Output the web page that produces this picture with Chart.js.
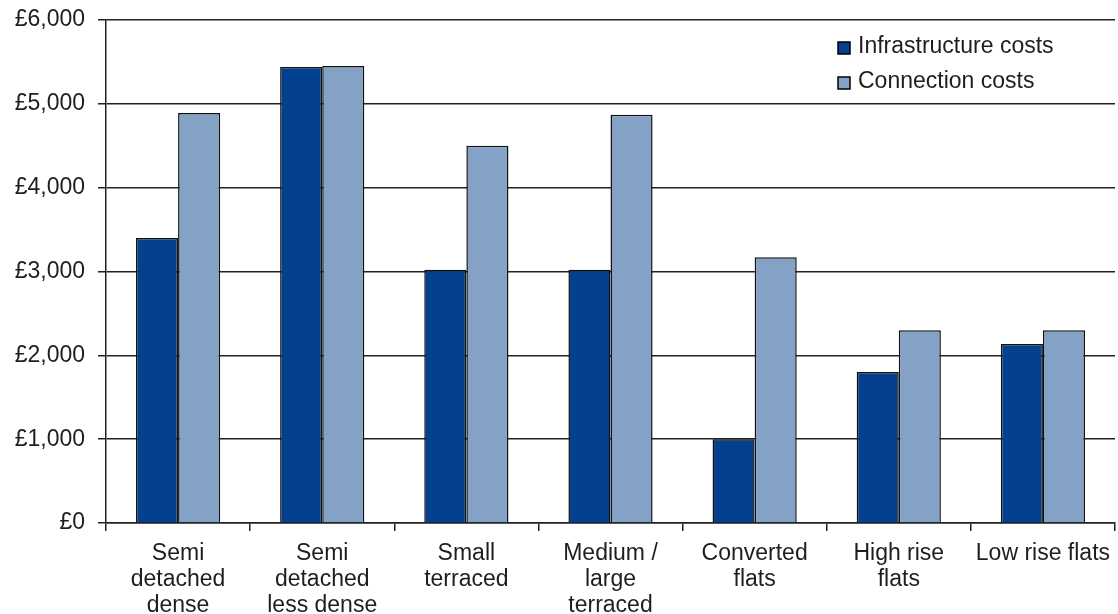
<!DOCTYPE html>
<html>
<head>
<meta charset="utf-8">
<script src="https://cdn.jsdelivr.net/npm/chart.js@4/dist/chart.umd.min.js"></script>
<style>
html,body{margin:0;padding:0;background:#fff;}
#wrap{width:1118px;height:614px;}
</style>
</head>
<body>
<div id="wrap"><canvas id="c" width="1118" height="614"></canvas></div>
<script>
const categories = [
  ["Semi", "detached", "dense"],
  ["Semi", "detached", "less dense"],
  ["Small", "terraced"],
  ["Medium /", "large", "terraced"],
  ["Converted", "flats"],
  ["High rise", "flats"],
  ["Low rise flats"]
];
const infrastructureCosts = [3400, 5440, 3020, 3020, 1000, 1800, 2135];
const connectionCosts = [4890, 5450, 4500, 4870, 3170, 2300, 2300];
const seriesNames = ["Infrastructure costs", "Connection costs"];
const yTickValues = [0, 1000, 2000, 3000, 4000, 5000, 6000];

const FONT = '"Liberation Sans", Arial, sans-serif';
const TEXT = '#1e1e1e';

const legendPlugin = {
  id: 'floatLegend',
  afterDraw(chart) {
    const ctx = chart.ctx;
    ctx.save();
    ctx.font = '23px ' + FONT;
    ctx.textBaseline = 'middle';
    ctx.textAlign = 'left';
    chart.data.datasets.forEach((ds, i) => {
      const y = 47 + i * 35;
      ctx.fillStyle = ds.backgroundColor;
      ctx.fillRect(838, y - 5, 12, 12);
      ctx.strokeStyle = '#000';
      ctx.lineWidth = 1.5;
      ctx.strokeRect(838, y - 5, 12, 12);
      ctx.fillStyle = TEXT;
      ctx.fillText(ds.label, 858, y);
    });
    ctx.restore();
  }
};

new Chart(document.getElementById('c'), {
  type: 'bar',
  data: {
    labels: categories,
    datasets: [
      { label: seriesNames[0], data: infrastructureCosts, backgroundColor: '#03418E', borderColor: '#111', borderWidth: 1.5 },
      { label: seriesNames[1], data: connectionCosts, backgroundColor: '#84A1C6', borderColor: '#111', borderWidth: 1.5 }
    ]
  },
  options: {
    responsive: false,
    animation: false,
    devicePixelRatio: 1,
    layout: { padding: { top: 20, right: 3, bottom: 0, left: 0 } },
    datasets: { bar: { categoryPercentage: 0.584, barPercentage: 1.0 } },
    plugins: { legend: { display: false }, tooltip: { enabled: false } },
    scales: {
      x: {
        offset: true,
        grid: { offset: true, drawOnChartArea: false, drawTicks: true, tickLength: 8, color: '#222', lineWidth: 1.5 },
        border: { display: true, color: '#222', width: 1.5 },
        ticks: { color: TEXT, font: { family: FONT, size: 23, lineHeight: 1.13 }, padding: 10, maxRotation: 0, autoSkip: false },
        afterFit(scale) { scale.height = 91; scale.paddingLeft = 0; scale.paddingRight = 0; }
      },
      y: {
        min: 0, max: 6000,
        afterBuildTicks(scale) { scale.ticks = yTickValues.map(v => ({ value: v })); },
        grid: { color: '#222', lineWidth: 1.5, tickLength: 8 },
        border: { display: true, color: '#222', width: 1.5 },
        ticks: {
          color: TEXT, font: { family: FONT, size: 23 }, padding: 13,
          callback: v => '£' + Number(v).toLocaleString('en-GB')
        },
        afterFit(scale) { scale.width = 106; scale.paddingTop = 0; scale.paddingBottom = 0; }
      }
    }
  },
  plugins: [legendPlugin]
});
</script>
</body>
</html>
